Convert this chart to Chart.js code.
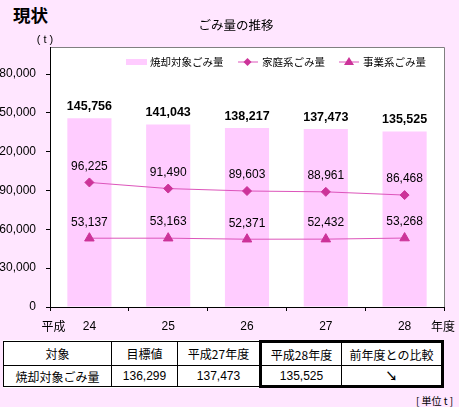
<!DOCTYPE html>
<html><head><meta charset="utf-8">
<script src="https://cdn.jsdelivr.net/npm/chart.js@4/dist/chart.umd.min.js"></script>
<style>
html,body{margin:0;padding:0;}
body{width:459px;height:407px;background:#FFE6FF;position:relative;overflow:hidden;font-family:"Liberation Sans","Noto Sans CJK JP",sans-serif;}
#head{position:absolute;left:13px;top:2px;font-family:"Noto Sans CJK JP",sans-serif;font-size:17.5px;font-weight:700;color:#000;}
#cv{position:absolute;left:-10px;top:0;}
table{position:absolute;left:3px;top:340px;width:439px;border-collapse:collapse;background:#fff;font-size:12px;table-layout:fixed;}
td{border:1px solid #000;text-align:center;padding:0;color:#000;}
tr.h td{height:22px;font-family:"Noto Sans CJK JP",sans-serif;}
tr.v td{height:19px;}
td.t1{border-left:3px solid #000;border-top:3px solid #000;}
td.t2{border-right:3px solid #000;border-top:3px solid #000;}
tr.v td.t1{border-top:1px solid #000;border-bottom:3px solid #000;}
tr.v td.t2{border-top:1px solid #000;border-bottom:3px solid #000;}
#unit{position:absolute;left:416px;top:393px;font-size:10px;font-family:"Noto Sans CJK JP",sans-serif;}
</style></head>
<body>
<div id="head">現状</div>
<canvas id="cv" width="470" height="340"></canvas>
<table id="tbl"></table>
<div id="unit">[ 単位 t ]</div>
<script>
// ---- data ----
const categories = ['24','25','26','27','28'];
const incinerated = [145756,141043,138217,137473,135525];
const household = [96225,91490,89603,88961,86468];
const business = [53137,53163,52371,52432,53268];
const seriesNames = ['焼却対象ごみ量','家庭系ごみ量','事業系ごみ量'];
const chartTitle = 'ごみ量の推移';
const tableHeaders = ['対象','目標値','平成27年度','平成28年度','前年度との比較'];
const tableRow = ['焼却対象ごみ量','136,299','137,473','135,525','↘'];

// ---- table ----
const tbl = document.getElementById('tbl');
const widths = [108,66,83,81,101];
const cg = document.createElement('colgroup');
widths.forEach(w=>{const c=document.createElement('col');c.style.width=w+'px';cg.appendChild(c);});
tbl.appendChild(cg);
function mkRow(cells, cls){
  const tr=document.createElement('tr');tr.className=cls;
  cells.forEach((t,i)=>{const td=document.createElement('td');td.textContent=t;
    if(i===3)td.className='t1';if(i===4)td.className='t2';
    if(cls==='v' && i===0) td.style.fontFamily='"Noto Sans CJK JP",sans-serif';
    if(cls==='v' && i===4) td.style.fontWeight='700';
    tr.appendChild(td);});
  tbl.appendChild(tr);
}
mkRow(tableHeaders,'h');mkRow(tableRow,'v');

// ---- chart ----
const FONT='"Liberation Sans","Noto Sans CJK JP",sans-serif';
const JFONT='"Noto Sans CJK JP",sans-serif';
Chart.defaults.font.family=FONT;
Chart.defaults.color='#000';
const OX=10; // canvas offset (page x + OX = canvas x)
const barColor='#FFCCFF', lineColor='#DD55BB', markColor='#CC3399';

const deco={
  id:'deco',
  beforeDraw(c){
    const ctx=c.ctx, a=c.chartArea;
    ctx.save();
    ctx.fillStyle='#fff';
    ctx.fillRect(a.left,47,a.right-a.left,a.bottom-47);
    ctx.strokeStyle='#808080';ctx.lineWidth=1;
    ctx.beginPath();ctx.moveTo(a.left,47.5);ctx.lineTo(a.right+0.5,47.5);ctx.lineTo(a.right+0.5,a.bottom);ctx.stroke();
    ctx.strokeStyle='#000';
    ctx.beginPath();ctx.moveTo(a.left+0.5,47);ctx.lineTo(a.left+0.5,a.bottom);ctx.stroke();
    ctx.restore();
  },
  afterDatasetsDraw(c){
    const ctx=c.ctx;ctx.save();
    ctx.textAlign='center';ctx.textBaseline='middle';ctx.fillStyle='#000';
    c.data.datasets.forEach((ds,i)=>{
      const meta=c.getDatasetMeta(i);
      meta.data.forEach((el,j)=>{
        const v=ds.data[j].toLocaleString('en-US');
        if(ds.type==='bar'){ctx.font='bold 12.5px '+FONT;ctx.fillText(v,el.x,el.y-12);}
        else{ctx.font='12px '+FONT;ctx.fillText(v,el.x,el.y-16);}
      });
    });
    ctx.restore();
  },
  afterDraw(c){
    const ctx=c.ctx, a=c.chartArea;ctx.save();
    ctx.fillStyle='#000';ctx.textBaseline='middle';ctx.textAlign='center';
    ctx.font='12.5px '+JFONT;
    ctx.fillText(chartTitle,236+OX,25);
    ctx.font='11px '+FONT;
    ctx.fillText('( t )',45+OX,40);
    ctx.font='12px '+JFONT;
    ctx.fillText('平成',53.5+OX,326);
    ctx.fillText('年度',443+OX,326);
    // legend
    ctx.font='10.5px '+JFONT;ctx.textAlign='left';
    const ly=62;
    ctx.fillStyle=barColor;ctx.fillRect(126+OX,ly-3,21,6);
    ctx.fillStyle='#000';ctx.fillText(seriesNames[0],150+OX,ly);
    ctx.strokeStyle=lineColor;ctx.lineWidth=1;
    ctx.beginPath();ctx.moveTo(238+OX,ly);ctx.lineTo(258+OX,ly);ctx.stroke();
    ctx.fillStyle=markColor;ctx.beginPath();
    const dx=247.5+OX;ctx.moveTo(dx,ly-4);ctx.lineTo(dx+4,ly);ctx.lineTo(dx,ly+4);ctx.lineTo(dx-4,ly);ctx.closePath();ctx.fill();
    ctx.fillStyle='#000';ctx.fillText(seriesNames[1],262+OX,ly);
    ctx.beginPath();ctx.moveTo(339+OX,ly);ctx.lineTo(359+OX,ly);ctx.stroke();
    ctx.fillStyle=markColor;ctx.beginPath();
    const tx=349+OX;ctx.moveTo(tx,ly-5);ctx.lineTo(tx+5,ly+3);ctx.lineTo(tx-5,ly+3);ctx.closePath();ctx.fill();
    ctx.fillStyle='#000';ctx.fillText(seriesNames[2],363+OX,ly);
    ctx.restore();
  }
};

new Chart(document.getElementById('cv'),{
  data:{labels:categories,datasets:[
    {type:'line',label:seriesNames[1],data:household,borderColor:lineColor,borderWidth:1,
     pointStyle:'rectRot',pointRadius:4.5,pointBackgroundColor:markColor,pointBorderColor:markColor,order:0},
    {type:'line',label:seriesNames[2],data:business,borderColor:lineColor,borderWidth:1,
     pointStyle:'triangle',pointRadius:5.5,pointBackgroundColor:markColor,pointBorderColor:markColor,order:1},
    {type:'bar',label:seriesNames[0],data:incinerated,backgroundColor:barColor,borderWidth:0,
     categoryPercentage:0.56,barPercentage:1,order:2}
  ]},
  options:{
    responsive:false,animation:false,devicePixelRatio:1,
    layout:{padding:{top:74,right:16,left:0,bottom:0}},
    plugins:{legend:{display:false},title:{display:false},tooltip:{enabled:false}},
    scales:{
      x:{grid:{display:true,drawOnChartArea:false,tickLength:4,color:'#000'},
         border:{color:'#000',width:1},
         ticks:{font:{size:12},padding:8,color:'#000'},
         afterFit(s){s.height=33;}},
      y:{min:0,max:180000,
         ticks:{stepSize:30000,font:{size:12},padding:10,color:'#000',
                callback:v=>v.toLocaleString('en-US')},
         grid:{display:true,drawOnChartArea:false,tickLength:4,color:'#000'},
         border:{color:'#000',width:1},
         afterFit(s){s.width=60;}}
    }
  },
  plugins:[deco]
});
</script>
</body></html>
